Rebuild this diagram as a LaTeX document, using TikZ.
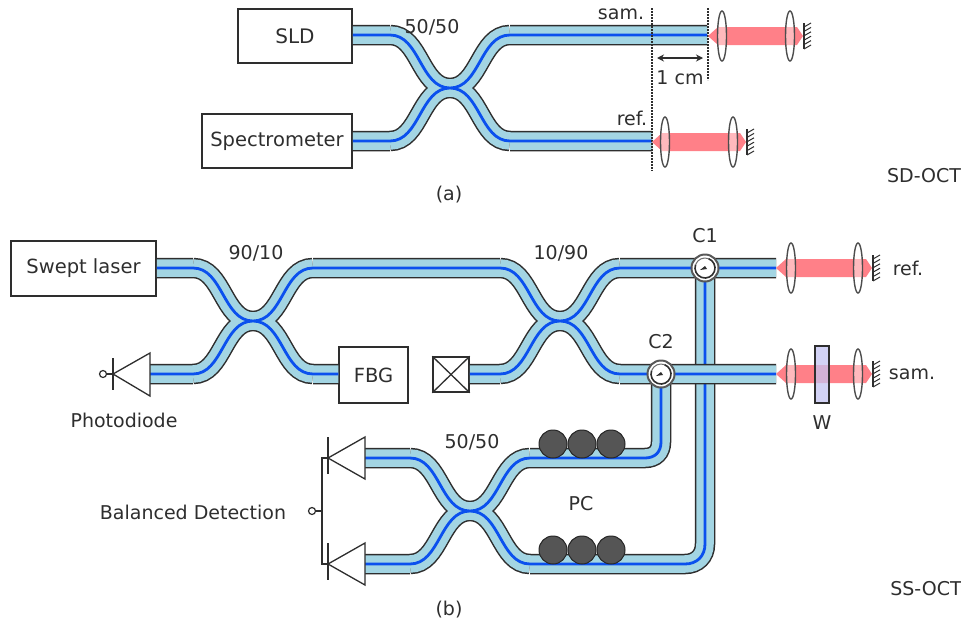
\documentclass[tikz,border=0pt]{standalone}
\usepackage{fontspec}
\setmainfont{DejaVu Sans}
\usetikzlibrary{arrows.meta,shapes.geometric}
\definecolor{fibfill}{HTML}{A3D5E3}
\definecolor{fibcore}{HTML}{0B50EE}
\definecolor{ink}{HTML}{2E2E2E}
\definecolor{beamred}{HTML}{FF8088}
\definecolor{pcgray}{HTML}{555555}
\definecolor{wfill}{HTML}{C4C4F2}
\tikzset{
  fibO/.style={draw=ink,line width=20.5pt,line cap=butt},
  fibF/.style={draw=fibfill,line width=17.5pt,line cap=butt},
  fibC/.style={draw=fibcore,line width=2.8pt,line cap=butt},
  boxn/.style={draw=ink,line width=1.5pt,fill=white,inner sep=0pt,text=ink},
  lbl/.style={text=ink,inner sep=0pt,font=\fontsize{19}{22}\selectfont},
  lensn/.style={draw=ink!85,line width=1.4pt,fill=white,fill opacity=.45,ellipse,inner sep=0pt,minimum width=9pt,minimum height=50pt},
  pcn/.style={circle,draw=black!85,line width=1pt,fill=pcgray,inner sep=0pt,minimum size=28pt},
  circn/.style={circle,draw=ink!80,line width=2pt,fill=white,inner sep=0pt,minimum size=27pt},
  diode/.style={draw=ink,line width=1.3pt,fill=white,line join=miter},
  thin/.style={draw=ink,line width=1.3pt},
  port/.style={circle,draw=ink,line width=1.2pt,fill=white,inner sep=0pt,minimum size=7pt},
  dotln/.style={draw=ink,line width=1.3pt,dash pattern=on 1.6pt off 1.4pt},
}
\newcommand{\fibergroup}[1]{\draw[fibO] #1; \draw[fibF] #1; \draw[fibC] #1;}
\newcommand{\coupler}[3]{%
  \coordinate (#1-c) at (#2,#3);
  \coordinate (#1-lt) at (#2-60,#3-53);
  \coordinate (#1-lb) at (#2-60,#3+53);
  \coordinate (#1-rt) at (#2+60,#3-53);
  \coordinate (#1-rb) at (#2+60,#3+53);}
\newcommand{\xpath}[1]{(#1-lt) .. controls +(30,0) and +(-30,0) .. (#1-c) .. controls +(30,0) and +(-30,0) .. (#1-rb)
  (#1-lb) .. controls +(30,0) and +(-30,0) .. (#1-c) .. controls +(30,0) and +(-30,0) .. (#1-rt)}
% #1 name, #2 left tip, #3 left lens, #4 right lens, #5 right tip, #6 y
\newcommand{\beamunit}[6]{%
  \fill[beamred] (#2,#6) -- (#2+10,#6-9) -- (#5-6,#6-9) -- (#5,#6) -- (#5-6,#6+9) -- (#2+10,#6+9) -- cycle;
  \node[lensn] (#1l) at (#3,#6) {};
  \node[lensn] (#1r) at (#4,#6) {};
  \draw[thin] (#5+1,#6-13) -- (#5+1,#6+13);
  \foreach \k in {0,...,5} {\draw[ink,line width=1pt] (#5+1,#6-9+\k*4.4) -- (#5+8,#6-13+\k*4.4);}
}
\newcommand{\circulator}[1]{%
  \draw[ink,line width=1.6pt] (#1)+(-70:10) arc[start angle=-70,end angle=200,radius=10];
  \draw[ink!70,line width=1pt] (#1)+(200:10) arc[start angle=200,end angle=290,radius=10];
  \fill[ink] (#1)+(-70:10) ++(-5,2) -- ++(5,-4) -- ++(2,3) -- cycle;
}
\begin{document}
\begin{tikzpicture}[x=1pt,y=-1pt]
\useasboundingbox (0,0) rectangle (961,627);
\fill[white] (0,0) rectangle (961,627);
% --- (a)
\coupler{ca}{450}{88}
\coupler{cb}{253}{321}
\coupler{cc}{560}{321}
\coupler{cd}{470}{511}
\coordinate (aS) at (707,35);
\coordinate (aR) at (652,141);
\coordinate (bRef) at (776,268);
\coordinate (bSam) at (776,374);
\coordinate (c1) at (705,268);
\coordinate (c2) at (661,374);
\coordinate (c2-t) at (661,374);
\node[boxn,minimum width=114pt,minimum height=54pt,font=\fontsize{20}{24}\selectfont] (sld) at (295,36) {SLD};
\node[boxn,minimum width=150pt,minimum height=54pt,font=\fontsize{19.5}{24}\selectfont] (spec) at (277,141) {Spectrometer};
\fibergroup{\xpath{ca} (sld.east |- ca-lt) -- (ca-lt) (spec.east |- ca-lb) -- (ca-lb) (ca-rt) -- (aS) (ca-rb) -- (aR)}
\draw[dotln] (652,8) -- (652,171);
\draw[dotln] (708,8) -- (708,80);
\coordinate (dimL) at (657,58);
\coordinate (dimR) at (703,58);
\draw[ink,line width=1.3pt,{Stealth[length=7pt,width=7pt]}-{Stealth[length=7pt,width=7pt]}] (dimL) -- (dimR);
\beamunit{ua}{708}{722}{790}{803}{36}
\beamunit{ub}{652}{665}{733}{746}{142}
\node[lbl] (t50a) at (432,27) {50/50};
\node[lbl] (tsam) at (621,14) {sam.};
\node[lbl] (tref) at (632,118) {ref.};
\node[lbl] (t1cm) at (680,78) {1 cm};
\node[lbl] (ta) at (449,195) {(a)};
\node[lbl] (tsd) at (924,176) {SD-OCT};
% --- (b)
\node[boxn,minimum width=145pt,minimum height=55pt,font=\fontsize{19.5}{24}\selectfont] (laser) at (83.5,268.5) {Swept laser};
\node[boxn,minimum width=69pt,minimum height=56pt,font=\fontsize{19.5}{24}\selectfont] (fbg) at (373.5,375) {FBG};
\node[boxn,minimum width=36pt,minimum height=35pt] (iso) at (451,374.5) {};
\draw[thin] (iso.north west) -- (iso.south east) (iso.north east) -- (iso.south west);
% bottom coupler and long fibre to C1 first (runs under the sample arm)
\coordinate (ph) at (150,374);
\coordinate (bd1) at (365,458);
\coordinate (bd2) at (365,564);
\fibergroup{\xpath{cd} (bd1) -- (cd-lt) (bd2) -- (cd-lb) (cd-rt) -- (645,458) .. controls (655,458) and (661,452) .. (661,442) -- (c2)
  (cd-rb) -- (685,564) .. controls (697,564) and (705,556) .. (705,544) -- (c1)}
\fibergroup{\xpath{cb} \xpath{cc} (laser.east |- cb-lt) -- (cb-lt) (ph) -- (cb-lb) (cb-rb) -- (fbg.west |- cb-rb) (cb-rt) -- (cc-lt) (iso.east |- cc-lb) -- (cc-lb) (cc-rt) -- (bRef) (cc-rb) -- (bSam)}
\node[circn] (n1) at (c1) {};
\node[circn] (n2) at (c2) {};
\circulator{n1}
\circulator{n2}
\foreach \i/\x in {1/553,2/582,3/611} {
  \node[pcn] (pt\i) at (\x,444) {};
  \node[pcn] (pb\i) at (\x,550) {};
}
\beamunit{uc}{776}{791}{858}{872}{268}
\beamunit{ud}{776}{791}{858}{872}{374}
\node[draw=ink,line width=1.4pt,fill=wfill,fill opacity=.75,draw opacity=1,minimum width=14pt,minimum height=57pt,inner sep=0pt] (wp) at (822,374.5) {};
% photodiode
\coordinate (pdA) at (113,374);
\draw[diode] (ph |- 0,353) -- (ph |- 0,396) -- (pdA) -- cycle;
\draw[thin] (113,358) -- (113,390);
\node[port] (pp) at (103,374) {};
\draw[thin] (pp) -- (pdA);
% balanced detection
\coordinate (a1) at (328,458);
\coordinate (a2) at (328,564);
\draw[diode] (bd1 |- 0,437) -- (bd1 |- 0,479) -- (a1) -- cycle;
\draw[diode] (bd2 |- 0,543) -- (bd2 |- 0,585) -- (a2) -- cycle;
\draw[thin] (328,437) -- (328,474) (328,543) -- (328,580);
\coordinate (bj) at (322,511);
\node[port] (bp) at (312,511) {};
\draw[thin] (a1) -- (322,458) -- (322,564) -- (a2);
\draw[thin] (bp) -- (bj);
\node[lbl] (t9010) at (256,253) {90/10};
\node[lbl] (t1090) at (561,253) {10/90};
\node[lbl] (tc1) at (705,236) {C1};
\node[lbl] (tc2) at (661,342) {C2};
\node[lbl] (t50b) at (472,442) {50/50};
\node[lbl] (tpc) at (581,504) {PC};
\node[lbl] (tref2) at (908,268) {ref.};
\node[lbl] (tsam2) at (912,374) {sam.};
\node[lbl] (tw) at (822,423) {W};
\node[lbl] (tpd) at (124,420) {Photodiode};
\node[lbl] (tbd) at (193,512) {Balanced Detection};
\node[lbl] (tb) at (449,610) {(b)};
\node[lbl] (tss) at (926,589) {SS-OCT};
\end{tikzpicture}
\end{document}
